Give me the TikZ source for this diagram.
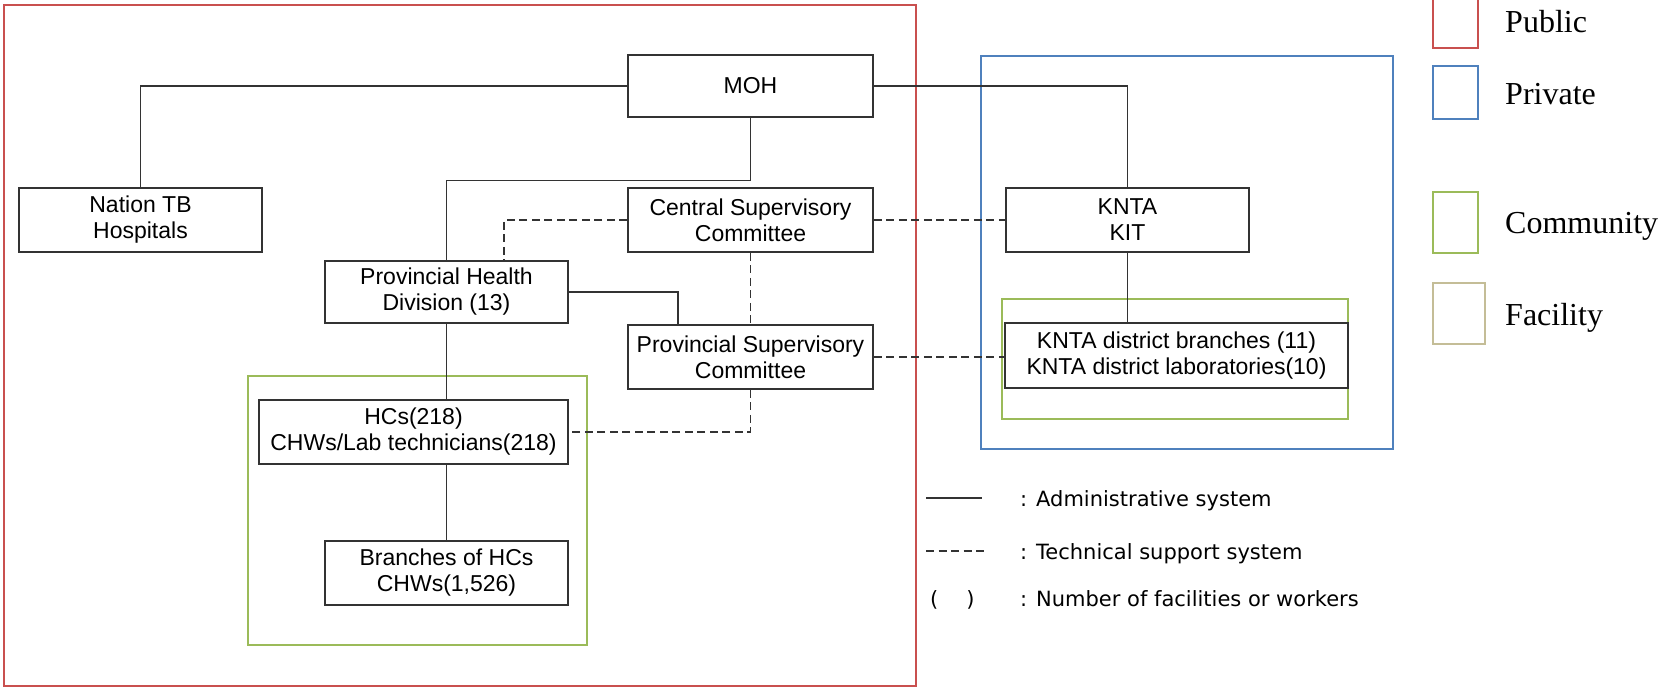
\documentclass[tikz,border=0pt]{standalone}
\usepackage{fontspec}
\setmainfont{Liberation Sans}
\newfontfamily\legserif{Liberation Serif}
\newfontfamily\legsans{DejaVu Sans}
\definecolor{pubred}{HTML}{C9504F}
\definecolor{privblue}{HTML}{4F81BD}
\definecolor{commgreen}{HTML}{9BBB59}
\definecolor{factan}{HTML}{C4BD97}
\definecolor{boxgray}{HTML}{333333}
\begin{document}
\begin{tikzpicture}[x=1pt,y=-1pt,
  box/.style={draw=boxgray, line width=1.6pt, fill=white, align=center, inner sep=0pt,
    font=\fontsize{23}{26}\selectfont},
  admin/.style={draw=boxgray, line width=1.3pt},
  tech/.style={draw=boxgray, line width=1.4pt, dash pattern=on 8pt off 4.5pt},
  group/.style={line width=2.5pt},
  legtxt/.style={anchor=base west, inner sep=0pt, font=\legsans\fontsize{21}{24}\selectfont},
  legser/.style={anchor=base west, inner sep=0pt, font=\legserif\fontsize{32}{36}\selectfont}
]
\useasboundingbox (0,0) rectangle (1670,688);

% group frames
\draw[group, pubred] (4,5) rectangle (916,686);
\draw[group, commgreen] (248,376) rectangle (587,645);
\draw[group, privblue] (981,56) rectangle (1393,449);
\draw[group, commgreen] (1002,299) rectangle (1348,419);

% legend frames
\draw[group, pubred] (1433,-2) rectangle (1478,48);
\draw[group, privblue] (1433,66) rectangle (1478,119);
\draw[group, commgreen] (1433,192) rectangle (1478,253);
\draw[group, factan] (1433,283) rectangle (1485,344);

% nodes
\node[box, minimum width=245pt, minimum height=62pt] (moh) at (750.5,86) {MOH};
\node[box, minimum width=243pt, minimum height=64pt] (ntb) at (140.5,220) {Nation TB\\Hospitals};
\node[box, minimum width=245pt, minimum height=64pt] (csc) at (750.5,220) {Central Supervisory\\Committee};
\node[box, minimum width=243pt, minimum height=62pt] (phd) at (446.5,292) {Provincial Health\\Division (13)};
\node[box, minimum width=245pt, minimum height=64pt] (psc) at (750.5,357) {Provincial Supervisory\\Committee};
\node[box, minimum width=309pt, minimum height=64pt] (hcs) at (413.5,432) {HCs(218)\\CHWs/Lab technicians(218)};
\node[box, minimum width=243pt, minimum height=64pt] (brn) at (446.5,573) {Branches of HCs\\CHWs(1,526)};
\node[box, minimum width=243pt, minimum height=64pt] (kit) at (1127.5,220) {KNTA\\KIT};
\node[box, minimum width=343pt, minimum height=65pt] (knd) at (1176.5,355.5) {KNTA district branches (11)\\KNTA district laboratories(10)};

% connectors
\draw[admin] (moh.west) -| (ntb.north);
\draw[admin] (moh.east) -| (kit.north);
\draw[admin] (moh.south) -- ++(0,63) -| (phd.north);
\draw[tech] (csc.west) -| ([xshift=57.5pt]phd.north);
\draw[tech] (csc.east) -- (kit.west);
\draw[tech] (csc.south) -- (psc.north);
\draw[admin] (phd.east) -| ([xshift=-72.5pt]psc.north);
\draw[admin] (phd.south) -- (phd.south |- hcs.north);
\draw[admin] (brn.north |- hcs.south) -- (brn.north);
\draw[tech] (psc.south) |- (hcs.east);
\draw[tech] (psc.east) -- (psc.east -| knd.west);
\draw[admin] (kit.south) -- (kit.south |- knd.north);

% legend: line styles
\coordinate (la) at (926,498);
\coordinate (lb) at (926,551);
\draw[admin] (la) -- ++(56,0);
\draw[tech] (lb) -- ++(60,0);
\node[legtxt] (lt1) at (1020,506) {: Administrative system};
\node[legtxt] (lt2) at (1020,559) {: Technical support system};
\node[legtxt] (lp) at (930,606) {(\hspace{28pt})};
\node[legtxt] (lt3) at (1020,606) {: Number of facilities or workers};

% legend: groups
\node[legser] (lpub) at (1505,32) {Public};
\node[legser] (lpriv) at (1505,104) {Private};
\node[legser] (lcomm) at (1505,233) {Community};
\node[legser] (lfac) at (1505,325) {Facility};
\end{tikzpicture}
\end{document}
